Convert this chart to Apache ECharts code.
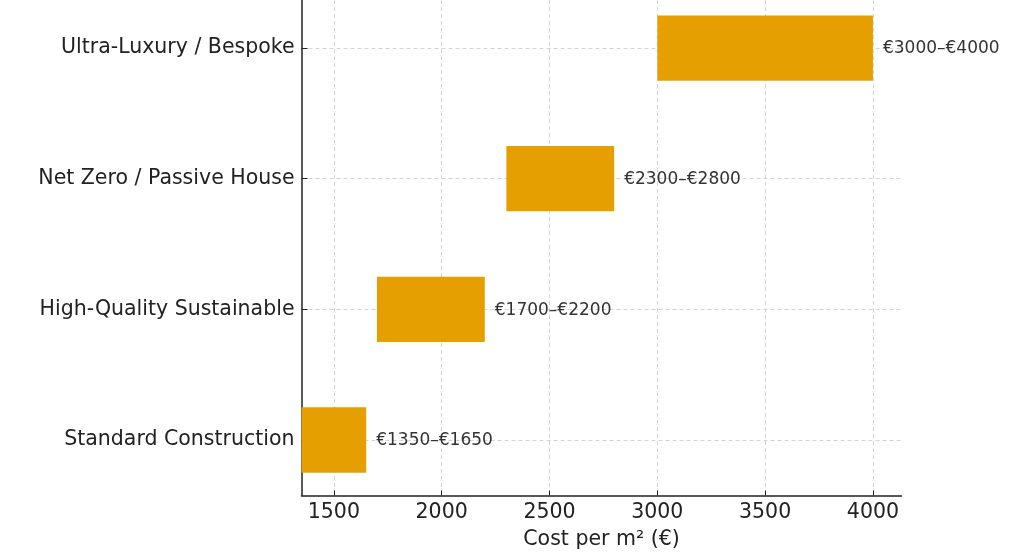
<!DOCTYPE html>
<html>
<head>
<meta charset="utf-8">
<script src="https://cdn.jsdelivr.net/npm/echarts@6/dist/echarts.min.js"></script>
<style>
  html, body { margin: 0; padding: 0; background: #fff; }
  #chart { width: 1024px; height: 556px; }
</style>
</head>
<body>
<div id="chart"></div>
<script>
var categories = ['Standard Construction', 'High-Quality Sustainable', 'Net Zero / Passive House', 'Ultra-Luxury / Bespoke'];
var lowCost = [1350, 1700, 2300, 3000];
var highCost = [1650, 2200, 2800, 4000];
var xTicks = [1500, 2000, 2500, 3000, 3500, 4000];

var chart = echarts.init(document.getElementById('chart'));

var rows = categories.map(function (name, i) {
  return [lowCost[i], highCost[i], i];
});

var font = 'DejaVu Sans';

chart.setOption({
  animation: false,
  grid: { left: 301.5, right: 122.5, top: 0, bottom: 60.5 },
  xAxis: {
    type: 'value',
    min: 1350,
    max: 4132.5,
    name: 'Cost per m\u00b2 (\u20ac)',
    nameLocation: 'middle',
    nameGap: 34,
    nameTextStyle: { fontFamily: font, fontSize: 20.5, color: '#222' },
    axisLine: { show: true, onZero: false, lineStyle: { color: '#222', width: 1.5 } },
    axisTick: { show: true, inside: true, length: 5, customValues: xTicks, lineStyle: { color: '#222' } },
    axisLabel: {
      customValues: xTicks, margin: 7, fontFamily: font, fontSize: 20.5, color: '#222',
      formatter: function (v) { return String(v); }
    },
    splitLine: { show: true, lineStyle: { color: '#d4d4d4', type: [4, 3], width: 1 } }
  },
  yAxis: {
    type: 'value',
    min: -0.425,
    max: 3.368,
    axisLine: { show: true, onZero: false, lineStyle: { color: '#222', width: 1.5 } },
    axisTick: { show: true, inside: true, length: 6, customValues: [0, 1, 2, 3], lineStyle: { color: '#222' } },
    axisLabel: {
      customValues: [0, 1, 2, 3],
      margin: 7,
      padding: [3, 0, 0, 0],
      fontFamily: font, fontSize: 20.5, color: '#222',
      formatter: function (v) { return categories[Math.round(v)] || ''; }
    },
    splitLine: { show: true, lineStyle: { color: '#d4d4d4', type: [4, 3], width: 1 } }
  },
  series: [{
    type: 'custom',
    data: rows,
    encode: { x: [0, 1], y: 2 },
    renderItem: function (params, api) {
      var start = api.coord([api.value(0), api.value(2)]);
      var end = api.coord([api.value(1), api.value(2)]);
      var h = api.size([0, 0.5])[1];
      return {
        type: 'group',
        children: [{
          type: 'rect',
          shape: { x: start[0], y: start[1] - h / 2, width: end[0] - start[0], height: h },
          style: { fill: '#E69F00' }
        }, {
          type: 'text',
          x: end[0] + 10,
          y: end[1] + 1,
          style: {
            text: '\u20ac' + api.value(0) + '\u2013\u20ac' + api.value(1),
            fill: '#333',
            font: '17px "DejaVu Sans"',
            verticalAlign: 'middle',
            align: 'left'
          }
        }]
      };
    }
  }]
});
</script>
</body>
</html>
